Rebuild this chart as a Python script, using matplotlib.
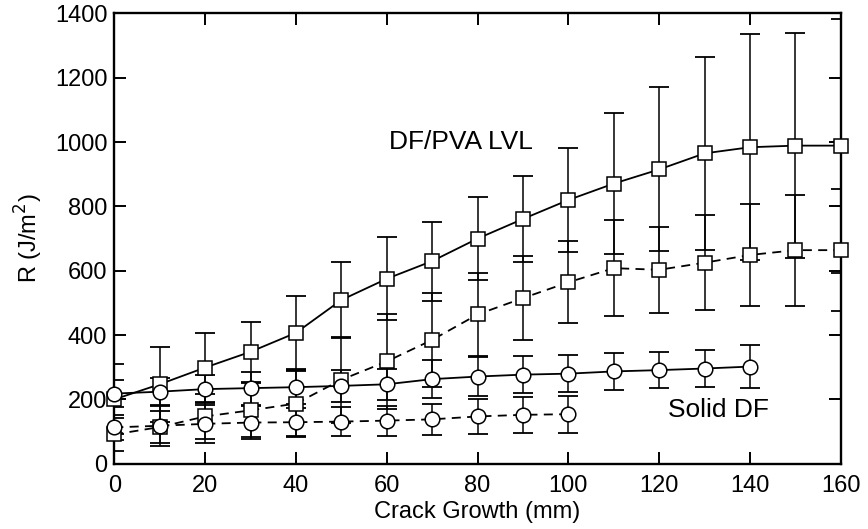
import numpy as np
import matplotlib
matplotlib.use("Agg")
import matplotlib.pyplot as plt

plt.rcParams['font.family'] = ['Liberation Sans', 'DejaVu Sans']

# crack growth (mm)
crack_lvl = [0, 10, 20, 30, 40, 50, 60, 70, 80, 90, 100, 110, 120, 130, 140, 150, 160]
crack_solid = [0, 10, 20, 30, 40, 50, 60, 70, 80, 90, 100, 110, 120, 130, 140]
crack_solid2 = [0, 10, 20, 30, 40, 50, 60, 70, 80, 90, 100]

# DF/PVA LVL, solid line squares
lvl_a = [200, 247, 299, 348, 407, 509, 575, 630, 700, 761, 820, 871, 915, 965, 984, 989, 989]
lvl_a_err = [109, 117, 107, 93, 114, 118, 129, 123, 129, 133, 163, 218, 255, 300, 351, 349, 395]

# DF/PVA LVL, dashed line squares
lvl_b = [91, 114, 147, 166, 187, 261, 318, 385, 464, 515, 564, 608, 603, 625, 649, 664, 664]
lvl_b_err = [52, 51, 71, 84, 104, 133, 149, 146, 129, 131, 128, 150, 134, 148, 160, 173, 190]

# Solid DF, solid line circles
solid_a = [218, 224, 232, 235, 238, 242, 247, 263, 271, 277, 280, 287, 291, 296, 302]
solid_a_err = [42, 44, 44, 51, 51, 49, 49, 60, 60, 57, 58, 57, 57, 58, 67]

# Solid DF, dashed line circles
solid_b = [113, 118, 124, 128, 129, 131, 134, 138, 147, 152, 154]
solid_b_err = [40, 64, 59, 52, 44, 46, 47, 48, 55, 57, 57]

fig = plt.figure(figsize=(8.68, 5.29), dpi=100)
ax = fig.add_axes([0.1317, 0.1234, 0.8370, 0.8512])

series = [
    (crack_lvl, lvl_a, lvl_a_err, 's', '-'),
    (crack_lvl, lvl_b, lvl_b_err, 's', (0, (5, 3.5))),
    (crack_solid, solid_a, solid_a_err, 'o', '-'),
    (crack_solid2, solid_b, solid_b_err, 'o', (0, (5, 3.5))),
]

# error bars first, then lines with white markers on top
for x, y, err, mk, ls in series:
    ax.errorbar(x, y, yerr=err, fmt='none', ecolor='black', elinewidth=1.1,
                capsize=7, capthick=1.3, zorder=2)
for x, y, err, mk, ls in series:
    ax.plot(x, y, color='black', linestyle=ls, linewidth=1.3, marker=mk,
            markersize=10 if mk == 's' else 10.5, markerfacecolor='white',
            markeredgecolor='black', markeredgewidth=1.1, clip_on=False, zorder=3)

ax.text(60.5, 1000, "DF/PVA LVL", fontsize=19, va='center', ha='left')
ax.text(122, 168, "Solid DF", fontsize=19, va='center', ha='left')

ax.set_xlim(0, 160)
ax.set_ylim(0, 1400)
ax.set_xticks(np.arange(0, 161, 20))
ax.set_yticks(np.arange(0, 1401, 200))
ax.tick_params(direction='in', length=8.5, width=1.4, labelsize=17,
               top=True, right=True)
ax.tick_params(axis='x', pad=8)
ax.tick_params(axis='y', pad=5)
for sp in ax.spines.values():
    sp.set_linewidth(1.7)

ax.set_xlabel("Crack Growth (mm)", fontsize=17, labelpad=3)
ax.set_ylabel("R (J/m$^2$)", fontsize=17, labelpad=7)

fig.savefig("out.png", dpi=100)
